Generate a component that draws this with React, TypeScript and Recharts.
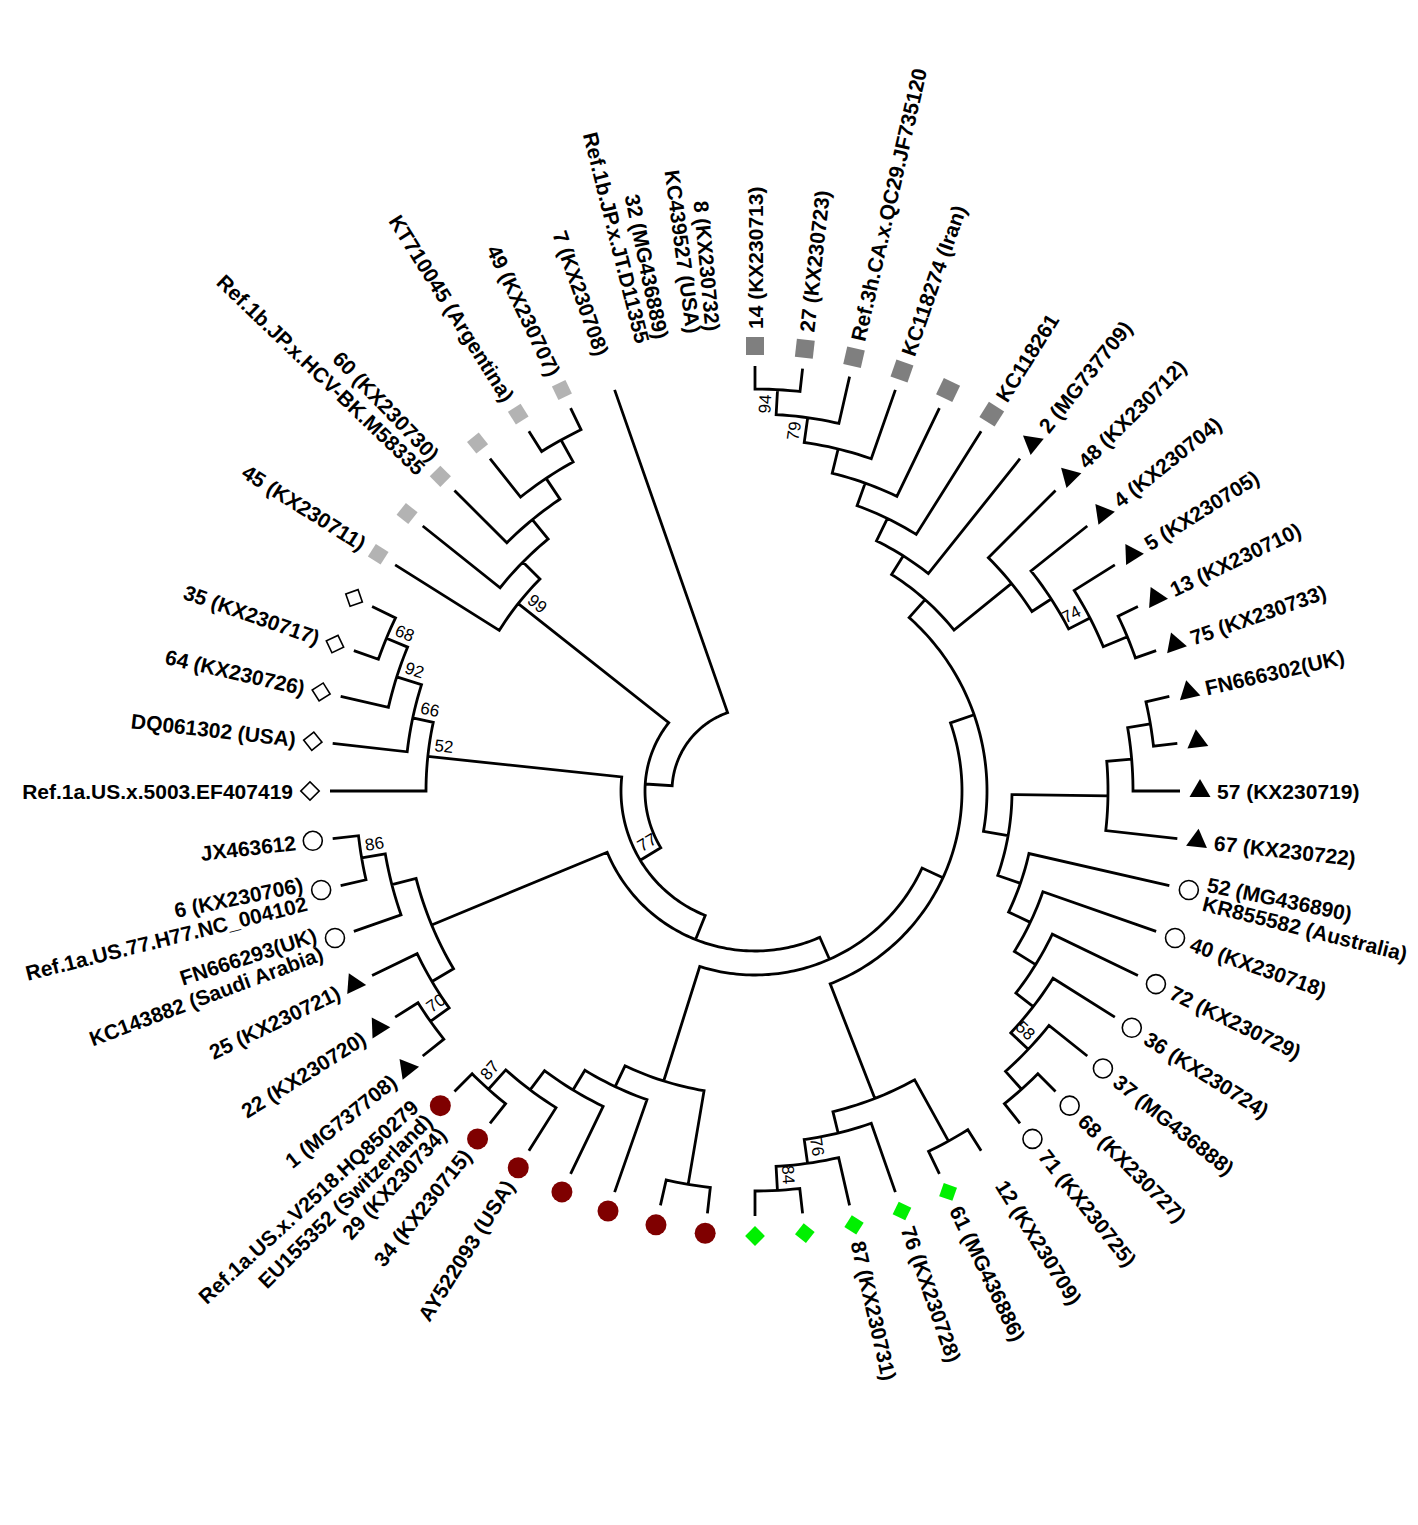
import { ComposedChart, XAxis, YAxis, Line, Scatter } from 'recharts'

const WIDTH = 1418
const HEIGHT = 1525
const CENTER_X = 755
const CENTER_Y = 791
const TIP_DEPTH = 425
const MARKER_R = 445
const LABEL_R = 462
const START_ANGLE = -90
const FONT = "'Liberation Sans', Arial, Helvetica, sans-serif"

// leaves in clockwise order, starting at 12 o'clock
const leafIds = [
  'G1', 'G2', 'G3', 'G4', 'G5', 'G6',
  'T1', 'T2', 'T3', 'T4', 'T5', 'T6', 'T7', 'T8', 'T9', 'T10',
  'C1', 'C2', 'C3', 'C4', 'C5', 'C6', 'C7',
  'U2', 'Gr5', 'Gr4', 'Gr3', 'Gr2', 'Gr1',
  'R7', 'R6', 'R5', 'R4', 'R3', 'R2', 'R1',
  'TL3', 'TL2', 'TL1', 'CL3', 'CL2', 'CL1',
  'D5', 'D4', 'D3', 'D2', 'D1',
  'L6', 'L5', 'L4', 'L3', 'L2', 'L1',
  'U1', 'X1', 'X2',
]

const leafMarkers = [
  'darkSquare', 'darkSquare', 'darkSquare', 'darkSquare', 'darkSquare', 'darkSquare',
  'triangle', 'triangle', 'triangle', 'triangle', 'triangle', 'triangle', 'triangle', 'triangle', 'triangle', 'triangle',
  'openCircle', 'openCircle', 'openCircle', 'openCircle', 'openCircle', 'openCircle', 'openCircle',
  'none', 'greenDiamond', 'greenDiamond', 'greenDiamond', 'greenDiamond', 'greenDiamond',
  'redCircle', 'redCircle', 'redCircle', 'redCircle', 'redCircle', 'redCircle', 'redCircle',
  'triangle', 'triangle', 'triangle', 'openCircle', 'openCircle', 'openCircle',
  'openDiamond', 'openDiamond', 'openDiamond', 'openDiamond', 'openDiamond',
  'lightSquare', 'lightSquare', 'lightSquare', 'lightSquare', 'lightSquare', 'lightSquare',
  'none', 'none', 'none',
]

const leafLabels: string[][] = [
  ['14 (KX230713)'], ['27 (KX230723)'], ['Ref.3h.CA.x.QC29.JF735120'], ['KC118274 (Iran)'], [], ['KC118261'],
  ['2 (MG737709)'], ['48 (KX230712)'], ['4 (KX230704)'], ['5 (KX230705)'], ['13 (KX230710)'], ['75 (KX230733)'],
  ['FN666302(UK)'], [], ['57 (KX230719)'], ['67 (KX230722)'],
  ['52 (MG436890)', 'KR855582 (Australia)'], ['40 (KX230718)'], ['72 (KX230729)'], ['36 (KX230724)'],
  ['37 (MG436888)'], ['68 (KX230727)'], ['71 (KX230725)'],
  ['12 (KX230709)'], ['61 (MG436886)'], ['76 (KX230728)'], ['87 (KX230731)'], [], [],
  [], [], [], [], ['AY522093 (USA)'], ['34 (KX230715)'],
  ['29 (KX230734)', 'EU155352 (Switzerland)', 'Ref.1a.US.x.V2518.HQ850279'],
  ['1 (MG737708)'], ['22 (KX230720)'], ['25 (KX230721)'],
  ['KC143882 (Saudi Arabia)', 'FN666293(UK)'], ['Ref.1a.US.77.H77.NC_004102', '6 (KX230706)'], ['JX463612'],
  ['Ref.1a.US.x.5003.EF407419'], ['DQ061302 (USA)'], ['64 (KX230726)'], ['35 (KX230717)'], [],
  ['45 (KX230711)'], [], ['Ref.1b.JP.x.HCV-BK.M58335', '60 (KX230730)'], [], ['KT710045 (Argentina)'], ['49 (KX230707)'],
  ['7 (KX230708)'], ['Ref.1b.JP.x.JT.D11355', '32 (MG436889)'], ['KC439527 (USA)', '8 (KX230732)'],
]

// clades: (children)support:node depth
const grayClade = '((((((G1,G2)94:402,G3)79:377,G4):352,G5):327,G6):303,T1):278'
const triangleCladeA = '(T2,(T3,(T4,(T5,T6):403)74:377):353):330'
const triangleCladeB = '(((T7,T8):401,T9):378,T10):353'
const circleCladeA = '(C1,(C2,(C3,(C4,(C5,(C6,C7):400)58:376):352):330):305):281'
const greenClade = '((U2,Gr5):400,(Gr4,(Gr3,(Gr2,Gr1)84:400)76:376):352):330'
const redClade = '((R7,R6):399,(R5,(R4,(R3,(R2,R1)87:400):374):350):327):304'
const leftClade = '(((TL3,TL2)70:398,TL1):375,(CL3,(CL2,CL1)86:399):375):350'
const diamondClade = '(D5,(D4,(D3,(D2,D1)68:399)92:376)66:350)52:329'
const lightClade = '(L6,(L5,(L4,(L3,(L2,L1):401):376):351):326)99:302'

const upperClade = `(${grayClade},${triangleCladeA}):256`
const rightClade = `(${triangleCladeB},${circleCladeA}):257`
const cladeG = `(${upperClade},${rightClade}):232`
const cladeF = `(${cladeG},${greenClade}):207`
const cladeE = `(${cladeF},${redClade}):184`
const cladeD = `(${cladeE},${leftClade}):160`
const cladeC = `(${cladeD},${diamondClade})77:134`
const cladeB = `(${cladeC},${lightClade}):110`
const treeNewick = `(${cladeB},U1):83;`

type TreeNode = { id: string; support: string; depth: number; children: TreeNode[]; angle: number }

function parseTree(src: string): TreeNode {
  let pos = 0
  const readToken = () => {
    let t = ''
    while (pos < src.length && !'(),:;'.includes(src[pos])) t += src[pos++]
    return t
  }
  const node = (): TreeNode => {
    const children: TreeNode[] = []
    if (src[pos] === '(') {
      pos++
      children.push(node())
      while (src[pos] === ',') {
        pos++
        children.push(node())
      }
      pos++
    }
    const name = readToken()
    let depth = TIP_DEPTH
    if (src[pos] === ':') {
      pos++
      depth = parseFloat(readToken())
    }
    return children.length
      ? { id: '', support: name, depth, children, angle: 0 }
      : { id: name, support: '', depth, children, angle: 0 }
  }
  return node()
}

const step = 360 / leafIds.length
const leafAngle = (i: number) => START_ANGLE + i * step
const rad = (deg: number) => (deg * Math.PI) / 180
const toXY = (r: number, deg: number) => ({ x: r * Math.cos(rad(deg)), y: r * Math.sin(rad(deg)) })
const textRotation = (deg: number) => (Math.cos(rad(deg)) >= -1e-9 ? deg : deg + 180)

function placeNodes(n: TreeNode) {
  if (!n.children.length) {
    n.angle = leafAngle(leafIds.indexOf(n.id))
    return
  }
  n.children.forEach(placeNodes)
  n.angle = (n.children[0].angle + n.children[n.children.length - 1].angle) / 2
}

type Pt = { x: number; y: number | null }

function collectBranches(n: TreeNode, out: Pt[]) {
  if (!n.children.length) return
  const first = n.children[0]
  const last = n.children[n.children.length - 1]
  out.push(toXY(first.depth, first.angle))
  for (let a = first.angle; a < last.angle; a += 1) out.push(toXY(n.depth, a))
  out.push(toXY(n.depth, last.angle))
  out.push(toXY(last.depth, last.angle))
  out.push({ x: 0, y: null })
  n.children.slice(1, -1).forEach((c) => {
    out.push(toXY(n.depth, c.angle), toXY(c.depth, c.angle), { x: 0, y: null })
  })
  n.children.forEach((c) => collectBranches(c, out))
}

function collectSupports(n: TreeNode, out: any[]) {
  if (n.support) out.push({ ...toXY(n.depth - 15, n.angle), text: n.support, angle: n.angle })
  n.children.forEach((c) => collectSupports(c, out))
}

const tree = parseTree(treeNewick)
placeNodes(tree)

const branchPoints: Pt[] = []
collectBranches(tree, branchPoints)

const supportPoints: any[] = []
collectSupports(tree, supportPoints)

const markerPoints = leafIds
  .map((id, i) => ({ ...toXY(MARKER_R, leafAngle(i)), id, marker: leafMarkers[i], angle: leafAngle(i) }))
  .filter((p) => p.marker !== 'none')

const labelPoints = leafLabels.flatMap((labels, i) =>
  labels.map((text, k) => {
    const a = leafAngle(i) + (k - (labels.length - 1) / 2) * 2.4
    return { ...toXY(LABEL_R, a), text, angle: a }
  })
)

function LeafMarker(props: any) {
  const { cx, cy, payload } = props
  const rot = textRotation(payload.angle)
  const tf = `rotate(${rot} ${cx} ${cy})`
  const diag = `rotate(${rot + 45} ${cx} ${cy})`
  switch (payload.marker) {
    case 'darkSquare':
      return <rect x={cx - 9} y={cy - 9} width={18} height={18} fill="#7f7f7f" transform={tf} />
    case 'lightSquare':
      return <rect x={cx - 7.5} y={cy - 7.5} width={15} height={15} fill="#b3b3b3" transform={tf} />
    case 'triangle': {
      const s = 21
      const h = s * 0.866
      return (
        <polygon
          points={`${cx},${cy - (2 * h) / 3} ${cx + s / 2},${cy + h / 3} ${cx - s / 2},${cy + h / 3}`}
          fill="#000"
          transform={tf}
        />
      )
    }
    case 'openCircle':
      return <circle cx={cx} cy={cy} r={9.5} fill="#fff" stroke="#000" strokeWidth={1.6} />
    case 'redCircle':
      return <circle cx={cx} cy={cy} r={10.5} fill="#7f0000" />
    case 'greenDiamond':
      return <rect x={cx - 7} y={cy - 7} width={14} height={14} fill="#00f000" transform={diag} />
    case 'openDiamond':
      return (
        <rect x={cx - 6.5} y={cy - 6.5} width={13} height={13} fill="#fff" stroke="#000" strokeWidth={1.6} transform={diag} />
      )
  }
  return <g />
}

function LeafLabel(props: any) {
  const { cx, cy, payload } = props
  const rot = textRotation(payload.angle)
  const flipped = rot !== payload.angle
  return (
    <text
      x={cx}
      y={cy}
      transform={`rotate(${rot} ${cx} ${cy})`}
      textAnchor={flipped ? 'end' : 'start'}
      dominantBaseline="central"
      fontFamily={FONT}
      fontWeight="bold"
      fontSize={21}
      fill="#000"
    >
      {payload.text}
    </text>
  )
}

function SupportLabel(props: any) {
  const { cx, cy, payload } = props
  const rot = textRotation(payload.angle)
  return (
    <text
      x={cx}
      y={cy}
      dy={-6}
      transform={`rotate(${rot} ${cx} ${cy})`}
      textAnchor="middle"
      fontFamily={FONT}
      fontSize={17}
      fill="#000"
    >
      {payload.text}
    </text>
  )
}

export default function App() {
  return (
    <div style={{ position: 'absolute', left: 0, top: 0, background: '#fff' }}>
      <ComposedChart width={WIDTH} height={HEIGHT} margin={{ top: 0, right: 0, bottom: 0, left: 0 }}>
        <XAxis type="number" dataKey="x" domain={[-CENTER_X, WIDTH - CENTER_X]} allowDataOverflow hide />
        <YAxis type="number" dataKey="y" domain={[-CENTER_Y, HEIGHT - CENTER_Y]} allowDataOverflow reversed hide />
        <Line
          data={branchPoints}
          dataKey="y"
          type="linear"
          stroke="#000"
          strokeWidth={2.8}
          dot={false}
          activeDot={false}
          connectNulls={false}
          isAnimationActive={false}
        />
        <Scatter data={markerPoints} shape={(p: any) => <LeafMarker {...p} />} isAnimationActive={false} />
        <Scatter data={labelPoints} shape={(p: any) => <LeafLabel {...p} />} isAnimationActive={false} />
        <Scatter data={supportPoints} shape={(p: any) => <SupportLabel {...p} />} isAnimationActive={false} />
      </ComposedChart>
    </div>
  )
}
